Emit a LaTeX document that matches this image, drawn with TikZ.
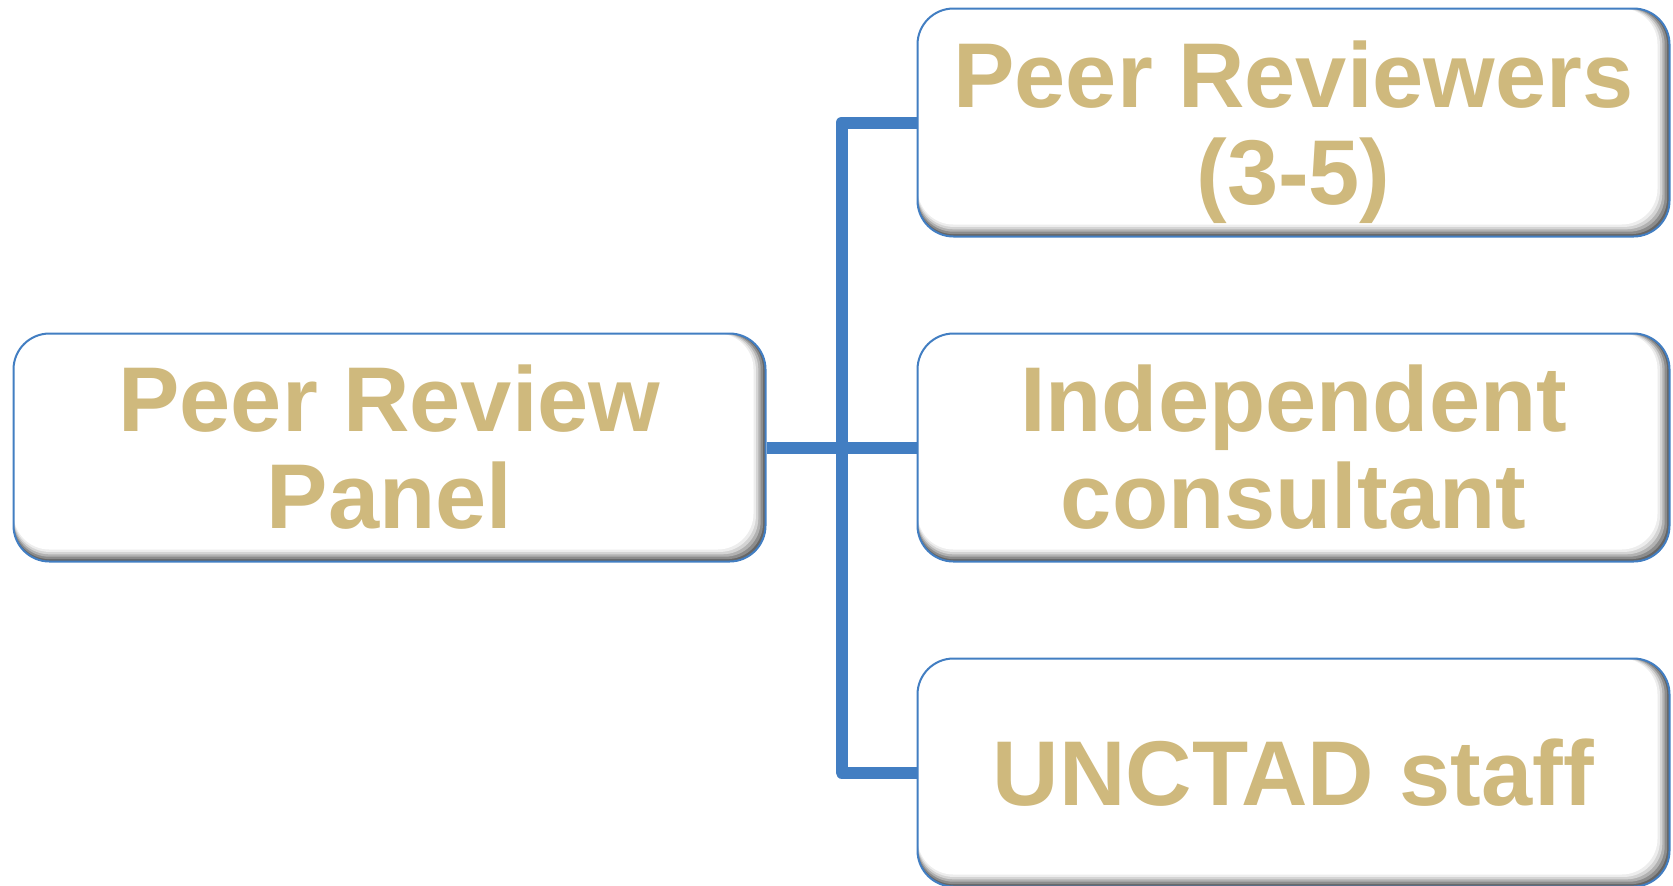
\documentclass[tikz,border=0pt]{standalone}
\usepackage{fontspec}
\setmainfont{Liberation Sans}
\usepackage{tikz}
\usetikzlibrary{positioning,calc}

\definecolor{tiletan}{RGB}{207,185,125}
\definecolor{tileblue}{RGB}{66,126,194}

\tikzset{
	tile/.style={draw=tileblue, line width=1pt, rounded corners=18pt,
		minimum width=376pt, minimum height=114pt, inner sep=0pt,
		align=center, text=tiletan,
		font=\fontsize{46}{48.5}\selectfont\bfseries,
		path picture={
			\foreach \d/\g in {0/60,1.2/45,2.4/30,3.6/17,4.8/7,6/0}
				\fill[black!\g!white, rounded corners=18pt]
					(path picture bounding box.north west) rectangle
					([xshift=-\d pt,yshift=\d pt]path picture bounding box.south east);
		}},
	link/.style={draw=tileblue, line width=6pt, line join=round}
}

\begin{document}
\begin{tikzpicture}[x=0.5pt,y=-0.5pt]
	\useasboundingbox (0,0) rectangle (1673,885);

	\node[tile] (panel) at (389.5,447.5) {Peer Review\\Panel};
	\node[tile] (indep) at (1293.5,447.5) {Independent\\consultant};
	\node[tile, above=47.5pt of indep] (reviewers) {Peer Reviewers\\\raisebox{0pt}[\height][0pt]{(3-5)}};
	\node[tile, below=47.5pt of indep] (staff) {UNCTAD staff};

	\coordinate (trunk) at ($(panel.east)!0.5!(indep.west)$);
	\draw[link] (panel.east) -- (indep.west);
	\draw[link] (reviewers.west) -| (trunk) |- (staff.west);
\end{tikzpicture}
\end{document}
